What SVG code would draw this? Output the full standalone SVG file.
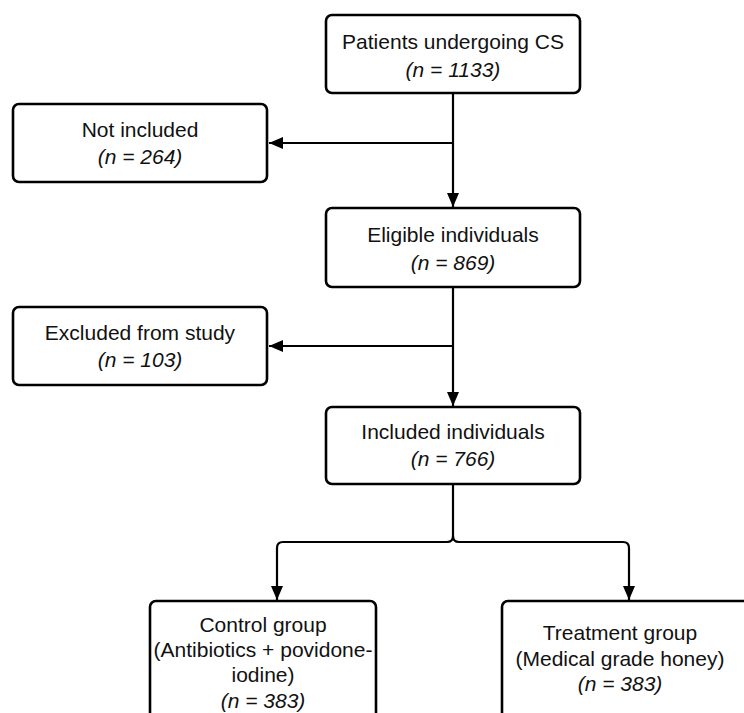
<svg xmlns="http://www.w3.org/2000/svg" width="744" height="713" viewBox="0 0 744 713">
<defs>
<marker id="ah" markerWidth="14" markerHeight="12" refX="14" refY="6" orient="auto" markerUnits="userSpaceOnUse">
<path d="M0,0 L14,6 L0,12 Z" fill="#000"/>
</marker>
<style>
.box{fill:#fff;stroke:#000;stroke-width:2.6}
.t{font-family:"Liberation Sans",Arial,sans-serif;font-size:21px;fill:#111;text-anchor:middle}
.i{font-style:italic}
.c{fill:none;stroke:#000;stroke-width:2.2}
</style>
</defs>
<rect width="744" height="713" fill="#fff"/>
<g id="connectors">
<path class="c" d="M453,93 V207" marker-end="url(#ah)"/>
<path class="c" d="M453,143 H269" marker-end="url(#ah)"/>
<path class="c" d="M453,287 V406" marker-end="url(#ah)"/>
<path class="c" d="M453,346 H269" marker-end="url(#ah)"/>
<path class="c" d="M453,484 V536 Q453,542 447,542 H283 Q277,542 277,548 V600" marker-end="url(#ah)"/>
<path class="c" d="M453,536 Q453,542 459,542 H623 Q629,542 629,548 V600" marker-end="url(#ah)"/>
</g>
<g id="n1">
<rect class="box" x="326" y="15" width="254" height="78" rx="6"/>
<text class="t" x="453" y="49">Patients undergoing CS</text>
<text class="t i" x="453" y="77">(n = 1133)</text>
</g>
<g id="n2">
<rect class="box" x="13" y="104" width="254" height="78" rx="6"/>
<text class="t" x="140" y="137">Not included</text>
<text class="t i" x="140" y="164">(n = 264)</text>
</g>
<g id="n3">
<rect class="box" x="326" y="208" width="254" height="79" rx="6"/>
<text class="t" x="453" y="242">Eligible individuals</text>
<text class="t i" x="453" y="270">(n = 869)</text>
</g>
<g id="n4">
<rect class="box" x="13" y="307" width="254" height="78" rx="6"/>
<text class="t" x="140" y="340">Excluded from study</text>
<text class="t i" x="140" y="367">(n = 103)</text>
</g>
<g id="n5">
<rect class="box" x="326" y="407" width="254" height="77" rx="6"/>
<text class="t" x="453" y="439">Included individuals</text>
<text class="t i" x="453" y="466">(n = 766)</text>
</g>
<g id="n6">
<rect class="box" x="150" y="601" width="226" height="130" rx="6"/>
<text class="t" x="263" y="632">Control group</text>
<text class="t" x="263" y="657">(Antibiotics + povidone-</text>
<text class="t" x="263" y="682">iodine)</text>
<text class="t i" x="263" y="708">(n = 383)</text>
</g>
<g id="n7">
<rect class="box" x="502" y="601" width="250" height="130" rx="6"/>
<text class="t" x="620" y="640">Treatment group</text>
<text class="t" x="620" y="666">(Medical grade honey)</text>
<text class="t i" x="620" y="691">(n = 383)</text>
</g>
</svg>
